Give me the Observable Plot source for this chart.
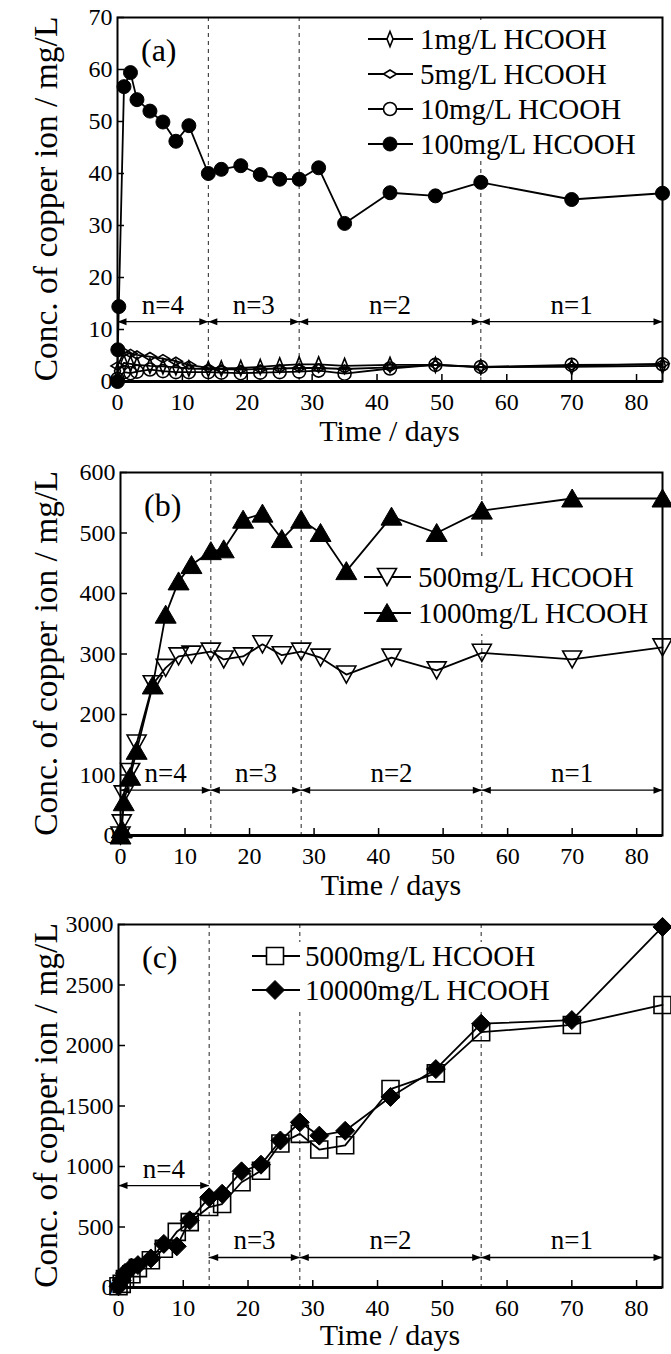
<!DOCTYPE html>
<html><head><meta charset="utf-8">
<script src="https://cdn.jsdelivr.net/npm/d3@7"></script>
<script src="https://cdn.jsdelivr.net/npm/@observablehq/plot@0.6"></script>
<style>
html,body{margin:0;padding:0;background:#fff;}
#chart svg{display:block;}
</style></head><body><div id="chart"></div>
<script>
// ---------- DATA ----------
const xTicks = [0, 10, 20, 30, 40, 50, 60, 70, 80];
const cycleBounds = [14, 28, 56];
const cycleStarts = [0, 14, 28, 56];
const cycleEnds = [14, 28, 56, 84];
const cycleLabels = ["n=4", "n=3", "n=2", "n=1"];

// panel (a)
const yTicksA = [0, 10, 20, 30, 40, 50, 60, 70];
const daysA = [0, 1, 2, 3, 5, 7, 9, 11, 14, 16, 19, 22, 25, 28, 31, 35, 42, 49, 56, 70, 84];
const conc1 = [2.0, 3.6, 3.4, 3.2, 3.0, 2.9, 2.7, 2.5, 2.4, 2.5, 2.6, 2.8, 3.1, 3.3, 3.3, 3.0, 3.2, 3.2, 2.8, 2.8, 3.0];
const conc5 = [3.0, 5.6, 5.4, 5.1, 4.8, 4.4, 3.9, 3.2, 2.6, 2.4, 2.3, 2.4, 2.5, 2.6, 2.6, 2.4, 2.7, 3.2, 2.7, 3.0, 3.4];
const conc10 = [0.5, 1.8, 1.6, 1.9, 2.3, 2.0, 1.8, 1.8, 1.8, 1.7, 1.6, 1.7, 1.8, 1.9, 2.1, 1.5, 2.5, 3.2, 2.8, 3.2, 3.3];
const days100 = [0, 0.05, 0.2, 1, 2, 3, 5, 7, 9, 11, 14, 16, 19, 22, 25, 28, 31, 35, 42, 49, 56, 70, 84];
const conc100 = [0, 6.1, 14.4, 56.7, 59.4, 54.2, 52.0, 49.9, 46.2, 49.2, 40.0, 40.8, 41.5, 39.8, 38.9, 38.9, 41.1, 30.4, 36.3, 35.7, 38.3, 35.0, 36.2];
const arrowYA = [11.5, 11.5, 11.5, 11.5];

// panel (b)
const yTicksB = [0, 100, 200, 300, 400, 500, 600];
const daysB = [0, 0.2, 0.5, 1.5, 2.5, 5, 7, 9, 11, 14, 16, 19, 22, 25, 28, 31, 35, 42, 49, 56, 70, 84];
const conc500 = [0, 20, 68, 105, 152, 250, 277, 296, 299, 304, 291, 296, 316, 298, 304, 294, 266, 294, 273, 302, 291, 311];
const conc1000 = [0, 10, 55, 97, 140, 248, 365, 420, 447, 470, 473, 522, 532, 490, 522, 500, 437, 527, 500, 537, 557, 557];
const arrowYB = [75, 75, 75, 75];

// panel (c)
const yTicksC = [0, 500, 1000, 1500, 2000, 2500, 3000];
const daysC = [0, 0.5, 1, 2, 3, 5, 7, 9, 11, 14, 16, 19, 22, 25, 28, 31, 35, 42, 49, 56, 70, 84];
const conc5000 = [10, 30, 70, 110, 160, 225, 320, 460, 540, 665, 690, 870, 965, 1190, 1270, 1140, 1175, 1640, 1770, 2110, 2170, 2335];
const conc10000 = [10, 60, 120, 165, 185, 240, 360, 340, 555, 745, 775, 960, 1015, 1215, 1365, 1255, 1295, 1575, 1805, 2180, 2210, 2980];
const arrowYC = [842, 248, 248, 248];

// ---------- SYMBOLS ----------
const symNarrowDiamond = {draw(c){c.moveTo(0,-7.5);c.lineTo(3,0);c.lineTo(0,7.5);c.lineTo(-3,0);c.closePath();}};
const symFlatDiamond = {draw(c){c.moveTo(-6.5,0);c.lineTo(0,-4);c.lineTo(6.5,0);c.lineTo(0,4);c.closePath();}};
const symCircleOpen = {draw(c){c.moveTo(6.5,0);c.arc(0,0,6.5,0,2*Math.PI);}};
const symCircleFilled = {draw(c){c.moveTo(7,0);c.arc(0,0,7,0,2*Math.PI);}};
const symTriUp = {draw(c){c.moveTo(0,-9.5);c.lineTo(10.5,8.5);c.lineTo(-10.5,8.5);c.closePath();}};
const symTriDown = {draw(c){c.moveTo(0,8.5);c.lineTo(9.5,-8.5);c.lineTo(-9.5,-8.5);c.closePath();}};
const symSquare = {draw(c){c.rect(-8.5,-8.5,17,17);}};
const symDiamond = {draw(c){c.moveTo(0,-9.5);c.lineTo(9.5,0);c.lineTo(0,9.5);c.lineTo(-9.5,0);c.closePath();}};
const symHeadL = {draw(c){c.moveTo(0,0);c.lineTo(9,-3.5);c.lineTo(9,3.5);c.closePath();}};
const symHeadR = {draw(c){c.moveTo(0,0);c.lineTo(-9,-3.5);c.lineTo(-9,3.5);c.closePath();}};

function rowsOf(name, days, values) { return days.map((d, i) => ({series: name, day: d, conc: values[i]})); }

const W = 671;
const FONT = "'Liberation Serif', 'Times New Roman', serif";

function panel(cfg) {
  const plotH = cfg.height - cfg.marginTop - cfg.marginBottom;
  const plotW = W - cfg.marginLeft - cfg.marginRight;
  const arrows = cycleStarts.map((s, i) => ({start: s, end: cycleEnds[i], y: cfg.arrowY[i], label: cycleLabels[i]}));
  const allRows = cfg.series.flatMap(s => rowsOf(s.name, s.days, s.values));
  const marks = [
    Plot.ruleX(cycleBounds, {x: d => d, stroke: "#222", strokeWidth: 1, strokeDasharray: "4,4"}),
    Plot.frame({stroke: "black", strokeWidth: 2}),
    Plot.ruleY([cfg.yDomain[0]], {stroke: "black", strokeWidth: 3}),
    Plot.tickX(xTicks, {x: d => d, insetTop: plotH - 7, stroke: "black", strokeWidth: 1.5}),
    Plot.tickY(cfg.yTicks, {y: d => d, insetRight: plotW - 7, stroke: "black", strokeWidth: 1.5}),
    Plot.axisX({ticks: xTicks, tickSize: 0, tickPadding: 11, label: null, tickFormat: d => String(d)}),
    Plot.axisY({ticks: cfg.yTicks, tickSize: 0, tickPadding: 5, label: null, tickFormat: d => String(d)}),
    Plot.ruleY(arrows, {x1: "start", x2: "end", y: "y", stroke: "black", strokeWidth: 1.3}),
    Plot.dot(arrows, {x: "start", y: "y", symbol: symHeadL, fill: "black", stroke: null}),
    Plot.dot(arrows, {x: "end", y: "y", symbol: symHeadR, fill: "black", stroke: null}),
    Plot.text(arrows, {x: d => (d.start + d.end) / 2, y: "y", text: "label", dy: -8, lineAnchor: "bottom", fontSize: 27}),
    Plot.line(allRows, {x: "day", y: "conc", z: "series", stroke: "black", strokeWidth: 1.8}),
    ...cfg.series.map(s => Plot.dot(rowsOf(s.name, s.days, s.values), {
      x: "day", y: "conc", symbol: s.symbol,
      fill: s.filled ? "black" : "none", stroke: "black", strokeWidth: s.filled ? 1 : 1.6
    }))
  ];
  const svg = Plot.plot({
    width: W, height: cfg.height,
    marginTop: cfg.marginTop, marginBottom: cfg.marginBottom,
    marginLeft: cfg.marginLeft, marginRight: cfg.marginRight,
    x: {domain: [0, 84]},
    y: {domain: cfg.yDomain},
    style: {fontFamily: FONT, fontSize: "24px", color: "black", background: "white", overflow: "visible"},
    marks
  });
  const sel = d3.select(svg);
  // white legend box hides the dashed guide lines behind it
  const b = cfg.legend.box;
  const firstRule = svg.querySelector("g[aria-label='rule']");
  const rect = document.createElementNS("http://www.w3.org/2000/svg", "rect");
  rect.setAttribute("x", b[0]); rect.setAttribute("y", b[1]);
  rect.setAttribute("width", b[2] - b[0]); rect.setAttribute("height", b[3] - b[1]);
  rect.setAttribute("fill", "white");
  firstRule.after(rect);
  // titles
  const plotBottom = cfg.height - cfg.marginBottom;
  const cx = cfg.marginLeft + plotW / 2;
  const cy = cfg.marginTop + plotH / 2;
  sel.append("text").attr("x", cx).attr("y", plotBottom + cfg.titleDy)
    .attr("text-anchor", "middle").attr("font-size", 30).attr("fill", "black").text("Time / days");
  sel.append("text").attr("transform", `translate(57,${cy}) rotate(-90)`)
    .attr("text-anchor", "middle").attr("font-size", 33.5).attr("fill", "black").text("Conc. of copper ion / mg/L");
  sel.append("text").attr("x", cfg.marginLeft + 24).attr("y", cfg.marginTop + 44)
    .attr("text-anchor", "start").attr("font-size", 32).attr("fill", "black").text(cfg.label);
  // legend
  const lg = sel.append("g");
  cfg.series.forEach((s, i) => {
    const y = cfg.legend.rows[i];
    lg.append("line").attr("x1", cfg.legend.x1).attr("x2", cfg.legend.x2).attr("y1", y).attr("y2", y)
      .attr("stroke", "black").attr("stroke-width", 1.8);
    const p = d3.path(); s.symbol.draw(p);
    lg.append("path").attr("d", p.toString())
      .attr("transform", `translate(${cfg.legend.sx},${y})`)
      .attr("fill", s.filled ? "black" : "white").attr("stroke", "black").attr("stroke-width", s.filled ? 1 : 1.6);
    lg.append("text").attr("x", cfg.legend.tx).attr("y", y + 9.5).attr("font-size", 29)
      .attr("text-anchor", "start").attr("fill", "black").text(s.name);
  });
  return svg;
}

const root = document.getElementById("chart");
root.append(panel({
  height: 452, marginTop: 17, marginBottom: 71, marginLeft: 117, marginRight: 9,
  yDomain: [0, 70], yTicks: yTicksA, arrowY: arrowYA, label: "(a)", titleDy: 60,
  series: [
    {name: "1mg/L HCOOH", days: daysA, values: conc1, symbol: symNarrowDiamond, filled: false},
    {name: "5mg/L HCOOH", days: daysA, values: conc5, symbol: symFlatDiamond, filled: false},
    {name: "10mg/L HCOOH", days: daysA, values: conc10, symbol: symCircleOpen, filled: false},
    {name: "100mg/L HCOOH", days: days100, values: conc100, symbol: symCircleFilled, filled: true}
  ],
  legend: {box: [360, 20, 659, 158], rows: [39, 74, 109, 144], x1: 368, x2: 413, sx: 390, tx: 420}
}));
root.append(panel({
  height: 455, marginTop: 20, marginBottom: 72, marginLeft: 120, marginRight: 9,
  yDomain: [0, 600], yTicks: yTicksB, arrowY: arrowYB, label: "(b)", titleDy: 60,
  series: [
    {name: "500mg/L HCOOH", days: daysB, values: conc500, symbol: symTriDown, filled: false},
    {name: "1000mg/L HCOOH", days: daysB, values: conc1000, symbol: symTriUp, filled: true}
  ],
  legend: {box: [358, 104, 659, 182], rows: [125, 161], x1: 364, x2: 411, sx: 387, tx: 418}
}));
root.append(panel({
  height: 447, marginTop: 17, marginBottom: 67, marginLeft: 118, marginRight: 9,
  yDomain: [0, 3000], yTicks: yTicksC, arrowY: arrowYC, label: "(c)", titleDy: 58,
  series: [
    {name: "5000mg/L HCOOH", days: daysC, values: conc5000, symbol: symSquare, filled: false},
    {name: "10000mg/L HCOOH", days: daysC, values: conc10000, symbol: symDiamond, filled: true}
  ],
  legend: {box: [246, 35, 565, 103], rows: [49, 83], x1: 252, x2: 300, sx: 275, tx: 305}
}));
</script></body></html>
